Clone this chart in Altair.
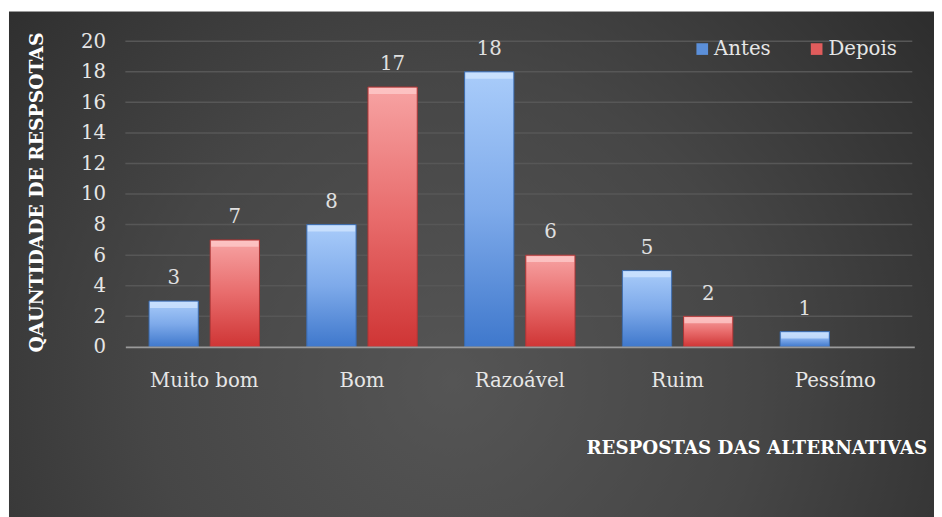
import altair as alt
import pandas as pd

categories = ["Muito bom", "Bom", "Razoável", "Ruim", "Pessímo"]
series = ["Antes", "Depois"]
antes = [3, 8, 18, 5, 1]
depois = [7, 17, 6, 2, 0]
y_ticks = [0, 2, 4, 6, 8, 10, 12, 14, 16, 18, 20]

rows = []
for c, a, d in zip(categories, antes, depois):
    rows.append({"cat": c, "serie": "Antes", "valor": a})
    rows.append({"cat": c, "serie": "Depois", "valor": d})
df = pd.DataFrame(rows)
df = df[df["valor"] > 0]

W, H = 800, 310
FONT = "DejaVu Serif"

y_scale = alt.Scale(domain=[0, 20], nice=False)

x_enc = alt.X("cat:N", sort=categories,
              scale=alt.Scale(domain=categories, paddingInner=0.3, paddingOuter=0.15),
              axis=alt.Axis(title="RESPOSTAS DAS ALTERNATIVAS", labelAngle=0, zindex=1,
                            labelFont=FONT, labelFontSize=20, labelColor="#e6e6e6",
                            labelPadding=24, ticks=False, domainColor="#9a9a9a",
                            domainWidth=2, titleFont=FONT, titleFontSize=18.5,
                            titleFontWeight="bold", titleColor="#ffffff",
                            titleAnchor="start", titleAlign="left",
                            titleX=467, titleY=102, titleBaseline="middle"))
xo_enc = alt.XOffset("serie:N", scale=alt.Scale(domain=series, paddingInner=0.194, paddingOuter=0))
y_axis = alt.Axis(values=y_ticks, title="QAUNTIDADE DE RESPSOTAS", zindex=1,
                  labelFont=FONT, labelFontSize=20, labelColor="#e6e6e6",
                  labelPadding=20, ticks=False, domain=False, grid=False,
                  titleFont=FONT, titleFontSize=19, titleFontWeight="bold",
                  titleColor="#ffffff", titleX=-90, titleY=153,
                  titleAngle=270, titleAlign="center", titleBaseline="middle")
y_enc = alt.Y("valor:Q", scale=y_scale, axis=y_axis)

bg = alt.Chart(pd.DataFrame({"a": [0]})).mark_rect(
    fill=alt.Gradient(gradient="radial",
                      stops=[alt.GradientStop(color="#555555", offset=0),
                             alt.GradientStop(color="#464646", offset=0.45),
                             alt.GradientStop(color="#272727", offset=1)],
                      x1=0.47, y1=0.62, r1=0, x2=0.47, y2=0.62, r2=0.72)
).encode(x=alt.value(-118), x2=alt.value(840), y=alt.value(-30), y2=alt.value(490))

grid = alt.Chart(pd.DataFrame({"valor": y_ticks[1:]})).mark_rule(
    color="#575757", strokeWidth=1.5
).encode(y=y_enc, x=alt.value(0), x2=alt.value(W - 2))

legend_bars = alt.Chart(df).mark_bar(opacity=1).encode(
    x=x_enc, xOffset=xo_enc, y=y_enc,
    color=alt.Color("serie:N", scale=alt.Scale(domain=series, range=["#5b8fd9", "#e05c5c"]),
                    legend=alt.Legend(title=None, orient="none", legendX=575, legendY=-2,
                                      direction="horizontal", symbolType="square",
                                      symbolSize=140, symbolStrokeWidth=0,
                                      labelFont=FONT, labelFontSize=20,
                                      labelColor="#e6e6e6", columnPadding=36,
                                      labelOffset=2))
)

def grad(top, mid, bottom):
    return alt.Gradient(gradient="linear",
                        stops=[alt.GradientStop(color=top, offset=0),
                               alt.GradientStop(color=mid, offset=0.5),
                               alt.GradientStop(color=bottom, offset=1)],
                        x1=0, x2=0, y1=0, y2=1)

blue_bars = alt.Chart(df).transform_filter(alt.datum.serie == "Antes").mark_bar(
    fill=grad("#a9ccfa", "#7eaaea", "#3f78cc"), stroke="#3a68a8", strokeWidth=1
).encode(x=x_enc, xOffset=xo_enc, y=y_enc)

red_bars = alt.Chart(df).transform_filter(alt.datum.serie == "Depois").mark_bar(
    fill=grad("#f7a3a3", "#e86c6c", "#cf3535"), stroke="#a83535", strokeWidth=1
).encode(x=x_enc, xOffset=xo_enc, y=y_enc)

blue_top = alt.Chart(df).transform_filter(alt.datum.serie == "Antes").mark_tick(
    color="#d6e8ff", thickness=6, size=48, yOffset=4, opacity=0.7
).encode(x=x_enc, xOffset=xo_enc, y=y_enc)

red_top = alt.Chart(df).transform_filter(alt.datum.serie == "Depois").mark_tick(
    color="#ffd0d0", thickness=6, size=48, yOffset=4, opacity=0.7
).encode(x=x_enc, xOffset=xo_enc, y=y_enc)

labels = alt.Chart(df).mark_text(
    font=FONT, fontSize=20, color="#e0e0e0", baseline="bottom", dy=-13
).encode(x=x_enc, xOffset=xo_enc, y=y_enc, text="valor:Q")

chart = alt.layer(bg, grid, legend_bars, blue_bars, red_bars, blue_top, red_top, labels).properties(
    width=W, height=H,
    autosize=alt.AutoSizeParams(type="none"),
    padding={"left": 119, "top": 30, "right": 20, "bottom": 180},
    background="#ffffff"
).configure_view(stroke=None)

chart.save("out.html", embed_options={"renderer": "svg", "actions": False})
